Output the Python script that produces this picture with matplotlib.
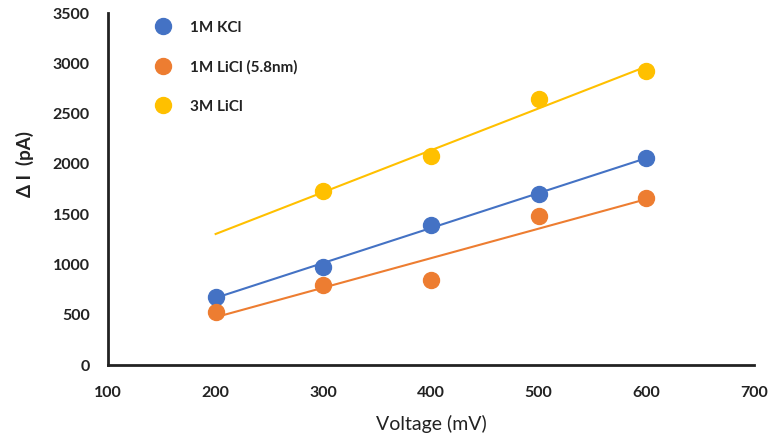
import numpy as np
import matplotlib
matplotlib.use("Agg")
import matplotlib.pyplot as plt
from matplotlib.lines import Line2D

voltage = [200, 300, 400, 500, 600]
kcl_1m = [681, 977, 1396, 1705, 2054]
licl_1m = [531, 798, 847, 1479, 1658]
licl_3m_v = [300, 400, 500, 600]
licl_3m = [1728, 2074, 2649, 2924]
labels = ["1M KCl", "1M LiCl (5.8nm)", "3M LiCl"]
colors = ["#4472C4", "#ED7D31", "#FFC000"]
trend_range = [200, 600]

plt.rcParams['font.family'] = ['Lato', 'DejaVu Sans']

fig = plt.figure(figsize=(7.69, 4.36), dpi=100)
ax = fig.add_axes([0.1404, 0.1628, 0.8401, 0.8072])

series = [(voltage, kcl_1m), (voltage, licl_1m), (licl_3m_v, licl_3m)]
for (xs, ys), c, lab in zip(series, colors, labels):
    ax.plot(xs, ys, 'o', color=c, markersize=11.5, zorder=3, label=lab)
    p = np.polyfit(xs, ys, 1)
    tx = np.array(trend_range, dtype=float)
    ax.plot(tx, np.polyval(p, tx), '-', color=c, linewidth=1.5, zorder=2)

ax.set_xlim(100, 700)
ax.set_ylim(0, 3500)
ax.set_xticks(range(100, 701, 100))
ax.set_yticks(range(0, 3501, 500))
for s in ['top', 'right']:
    ax.spines[s].set_visible(False)
for s in ['left', 'bottom']:
    ax.spines[s].set_linewidth(2)
    ax.spines[s].set_color('#222222')
ax.tick_params(axis='both', length=0, labelsize=11.5, colors='#222222')
ax.tick_params(axis='y', pad=13)
ax.tick_params(axis='x', pad=15)
for t in ax.get_xticklabels() + ax.get_yticklabels():
    t.set_fontweight('bold')

ax.set_xlabel("Voltage (mV)", fontsize=14, color='#222222')
ax.xaxis.set_label_coords(0.5, -0.142)
ax.set_ylabel("Δ I  (pA)", fontsize=13.5, color='#222222', fontweight='bold')
ax.yaxis.set_label_coords(-0.114, 0.571)

handles = [Line2D([], [], marker='o', linestyle='none', color=c, markersize=11.5) for c in colors]
leg = ax.legend(handles, labels, loc='upper left', bbox_to_anchor=(0.041, 1.017),
                frameon=False, labelspacing=1.65, handletextpad=0.76,
                prop={'size': 11, 'weight': 'bold'})
for t in leg.get_texts():
    t.set_color('#222222')

fig.savefig("out.png", dpi=100)
